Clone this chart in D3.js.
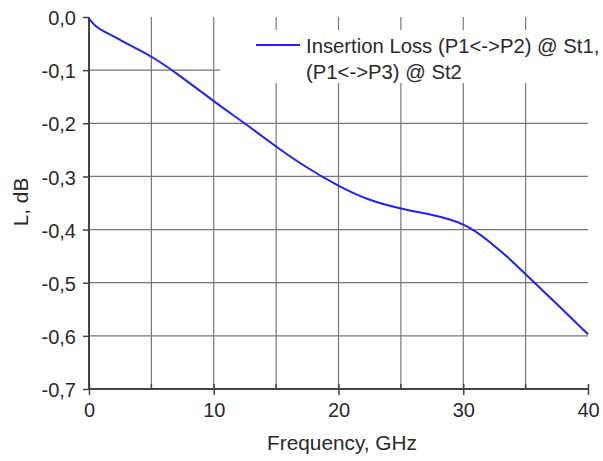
<!DOCTYPE html>
<html><head><meta charset="utf-8">
<script src="https://cdn.jsdelivr.net/npm/d3@7"></script>
<style>body{margin:0;background:#fff}svg{display:block}text{font-family:"Liberation Sans",Arial,sans-serif;fill:#2a2a2a}</style>
</head><body><svg id="c" width="603" height="461"></svg>
<script>
const freq = [0, 0.2, 0.5, 1, 2.5, 4, 5, 7, 10, 12.5, 15, 17, 20, 22.5, 25, 27.5, 29, 30, 31, 32, 33.5, 35, 37.5, 40];
const loss = [-0.003, -0.009, -0.017, -0.025, -0.043, -0.062, -0.074, -0.105, -0.159, -0.2, -0.244, -0.277, -0.319, -0.346, -0.361, -0.372, -0.381, -0.390, -0.403, -0.421, -0.45, -0.484, -0.54, -0.597];
const xTicks = [0, 10, 20, 30, 40];
const xMinor = [5, 15, 25, 35];
const yTicks = [0, -0.1, -0.2, -0.3, -0.4, -0.5, -0.6, -0.7];
const legendLines = ["Insertion Loss (P1<->P2) @ St1,", "(P1<->P3) @ St2"];

const svg = d3.select("#c");
const L = 89, R = 588, T = 17, B = 389;
const x = d3.scaleLinear().domain([0, 40]).range([L, R]);
const y = d3.scaleLinear().domain([0, -0.7]).range([T, B]);
const fmt = d => d3.format(".1f")(d).replace("\u2212", "-").replace(".", ",");
const FF = "Liberation Sans, Arial, sans-serif";

// grid
const g = svg.append("g");
g.selectAll(".vg").data(xMinor.concat([10, 20, 30])).join("line")
  .attr("x1", d => x(d)).attr("x2", d => x(d)).attr("y1", T).attr("y2", B)
  .attr("stroke", "#777").attr("stroke-width", 1.2);
g.selectAll(".hg").data(yTicks.filter(d => d < 0 && d > -0.7)).join("line")
  .attr("x1", L).attr("x2", R).attr("y1", d => y(d)).attr("y2", d => y(d))
  .attr("stroke", "#777").attr("stroke-width", 1.2);

// legend box (covers grid)
svg.append("rect").attr("x", 220).attr("y", 30).attr("width", 383).attr("height", 53).attr("fill", "#fff");

// axes
const xAxis = d3.axisBottom(x).tickValues(xTicks).tickSize(6).tickFormat(d3.format("d"));
const ax = svg.append("g").attr("transform", `translate(0,${B})`).call(xAxis);
ax.select(".domain").attr("stroke", "#444").attr("stroke-width", 2).attr("d", `M${L},0H${R}`);
ax.selectAll(".tick line").attr("stroke", "#444").attr("stroke-width", 1.5).attr("y1", -5);
ax.selectAll(".tick text").attr("font-size", 20).attr("dy", "0.95em").attr("fill", "#2a2a2a").attr("font-family", FF);
svg.append("g").selectAll("line").data(xMinor).join("line")
  .attr("x1", d => x(d)).attr("x2", d => x(d)).attr("y1", B - 5).attr("y2", B)
  .attr("stroke", "#444").attr("stroke-width", 1.5);

const yAxis = d3.axisLeft(y).tickValues(yTicks).tickSize(6).tickFormat(fmt).tickPadding(7);
const ay = svg.append("g").attr("transform", `translate(${L},0)`).call(yAxis);
ay.select(".domain").attr("stroke", "#444").attr("stroke-width", 2).attr("d", `M0,${T}V${B}`);
ay.selectAll(".tick line").attr("stroke", "#444").attr("stroke-width", 1.5);
ay.selectAll(".tick text").attr("font-size", 20).attr("dy", "0.38em").attr("fill", "#2a2a2a").attr("font-family", FF);

// curve
const line = d3.line().x((d, i) => x(freq[i])).y(d => y(d)).curve(d3.curveBasis);
svg.append("path").datum(loss).attr("d", line).attr("fill", "none").attr("stroke", "#2020ff").attr("stroke-width", 2);

// legend
svg.append("line").attr("x1", 256).attr("x2", 300).attr("y1", 45).attr("y2", 45).attr("stroke", "#2020ff").attr("stroke-width", 2.2);
svg.selectAll(".lt").data(legendLines).join("text")
  .attr("x", 306).attr("y", (d, i) => 52.5 + i * 26).attr("font-size", 20.3).text(d => d);

// titles
svg.append("text").attr("x", 342).attr("y", 450).attr("text-anchor", "middle").attr("font-size", 20.8).text("Frequency, GHz");
svg.append("text").attr("transform", "translate(28,202) rotate(-90)").attr("text-anchor", "middle").attr("font-size", 20.8).text("L, dB");
</script></body></html>
